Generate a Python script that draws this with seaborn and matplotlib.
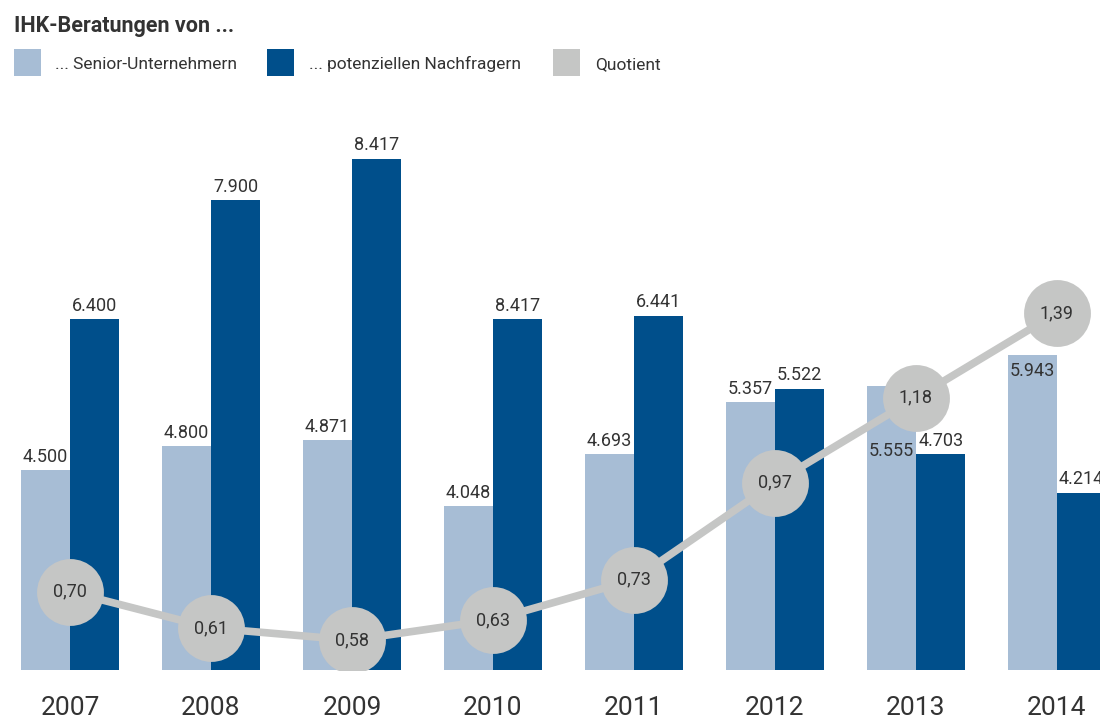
import numpy as np
import pandas as pd
import seaborn as sns
import matplotlib.pyplot as plt
from matplotlib.patches import Rectangle

# data
years = ["2007", "2008", "2009", "2010", "2011", "2012", "2013", "2014"]
senior = [4500, 4800, 4871, 4048, 4693, 5357, 5555, 5943]
nachfrager = [6400, 7900, 8417, 6400, 6441, 5522, 4703, 4214]
senior_labels = ["4.500", "4.800", "4.871", "4.048", "4.693", "5.357", "5.555", "5.943"]
nachfrager_labels = ["6.400", "7.900", "8.417", "8.417", "6.441", "5.522", "4.703", "4.214"]
quotient = [0.70, 0.61, 0.58, 0.63, 0.73, 0.97, 1.18, 1.39]
series_names = ["... Senior-Unternehmern", "... potenziellen Nachfragern"]
quotient_name = "Quotient"
title = "IHK-Beratungen von ..."

light_blue = "#a7bdd5"
dark_blue = "#004f8b"
grey = "#c5c6c5"
text_col = "#333333"

sns.set_theme(style="white")
plt.rcParams['font.family'] = ['Roboto', 'DejaVu Sans']

df = pd.DataFrame({
    "Jahr": years * 2,
    "Serie": [series_names[0]] * len(years) + [series_names[1]] * len(years),
    "Anzahl": senior + nachfrager,
})

fig = plt.figure(figsize=(11, 7.22), dpi=100)
ax = fig.add_axes([0, 0.072, 1, 0.79])
sns.barplot(data=df, x="Jahr", y="Anzahl", hue="Serie",
            palette=[light_blue, dark_blue], width=0.7, gap=0, linewidth=0,
            saturation=1, errorbar=None, legend=False, ax=ax)
ax.set_ylim(1980, 9160)

# value labels; two senior labels sit inside their bars
inside = {6: -47, 7: -11.5}
for k, (cont, labels) in enumerate(zip(ax.containers, [senior_labels, nachfrager_labels])):
    for i, (bar, lab) in enumerate(zip(cont, labels)):
        x = bar.get_x() + bar.get_width() / 2
        y = bar.get_y() + bar.get_height()
        if k == 0 and i in inside:
            ax.annotate(lab, (x, y), xytext=(0, inside[i]), textcoords="offset points",
                        ha="center", va="center", fontsize=13, color=text_col)
        else:
            ax.annotate(lab, (x, y), xytext=(0, 3), textcoords="offset points",
                        ha="center", va="bottom", fontsize=13, color=text_col)

# quotient line with circles
ax2 = ax.twinx()
sns.pointplot(x=years, y=quotient, color=grey, markers="o", markersize=44,
              linewidth=5.5, errorbar=None, ax=ax2)
ax2.set_ylim(0.506, 1.918)
for i, q in enumerate(quotient):
    ax2.text(i, q, f"{q:.2f}".replace(".", ","), ha="center", va="center",
             fontsize=13, color=text_col)

for a in (ax, ax2):
    a.set_xlim(-0.496, 7.305)
    a.set_xlabel("")
    a.set_ylabel("")
    a.set_yticks([])
    for s in a.spines.values():
        s.set_visible(False)
ax.tick_params(axis="x", length=0, pad=19, labelsize=19, labelcolor=text_col)

# title and legend
fig.text(14 / 1100, 1 - 32 / 722, title, fontsize=15.5, fontweight="bold",
         color=text_col, va="baseline", ha="left")
legend_items = [(series_names[0], light_blue, 14, 55),
                (series_names[1], dark_blue, 267, 309),
                (quotient_name, grey, 553, 595)]
for name, col, sx, tx in legend_items:
    fig.patches.append(Rectangle((sx / 1100, 1 - 76 / 722), 27 / 1100, 27 / 722,
                                 transform=fig.transFigure, color=col, linewidth=0))
    fig.text(tx / 1100, 1 - 69 / 722, name, fontsize=12.5, color=text_col,
             va="baseline", ha="left")

plt.savefig("out.png", dpi=100)
